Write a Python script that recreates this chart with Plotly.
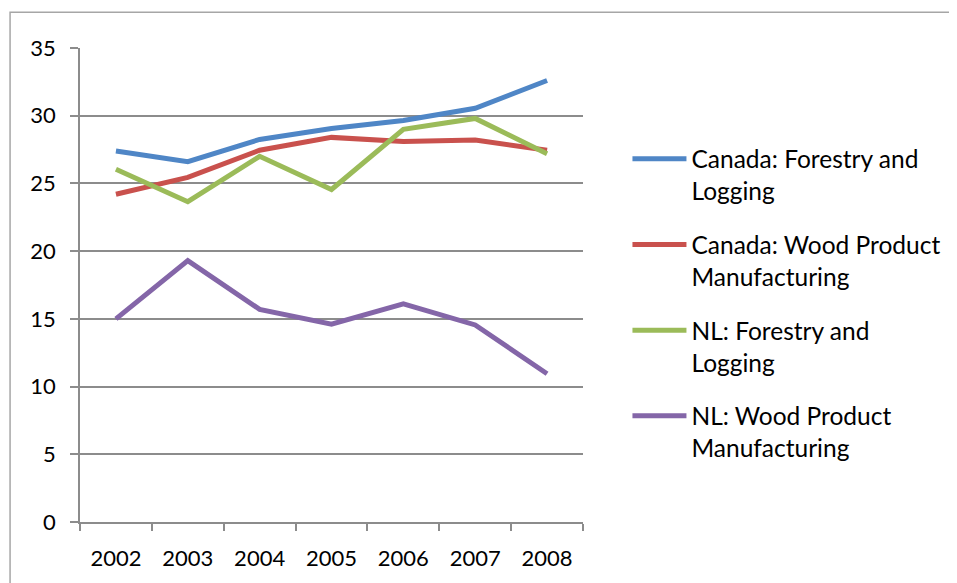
import plotly.graph_objects as go

years = ["2002", "2003", "2004", "2005", "2006", "2007", "2008"]
canada_forestry = [27.4, 26.6, 28.25, 29.05, 29.65, 30.55, 32.6]
canada_wood = [24.2, 25.45, 27.45, 28.4, 28.1, 28.2, 27.45]
nl_forestry = [26.05, 23.65, 27.0, 24.55, 29.0, 29.8, 27.2]
nl_wood = [15.0, 19.3, 15.7, 14.6, 16.1, 14.55, 10.95]

series_names = [
    "Canada: Forestry and<br>Logging",
    "Canada: Wood Product<br>Manufacturing",
    "NL: Forestry and<br>Logging",
    "NL: Wood Product<br>Manufacturing",
]
series_values = [canada_forestry, canada_wood, nl_forestry, nl_wood]
colors = ["#4F86C6", "#C9514D", "#9BBB59", "#8466A8"]

FONT = "Lato"
GRID = "#8c8c8c"

# page body has an 8px margin; compensate so the chart lands where the reference is
OFF = 8
W, H = 957 - OFF, 583 - OFF
px_left, px_right, px_top, px_bottom = 80 - OFF, 583.5 - OFF, 47.7 - OFF, 521.7 - OFF
pw, ph = px_right - px_left, px_bottom - px_top

fig = go.Figure()
for i, (name, vals, col) in enumerate(zip(series_names, series_values, colors)):
    fig.add_trace(go.Scatter(
        x=years, y=vals, name=name, mode="lines",
        line=dict(color=col, width=5),
        legendgroup=f"g{i}",
    ))

fig.update_layout(
    width=W, height=H,
    margin=dict(l=px_left, r=W - px_right, t=px_top, b=H - px_bottom, pad=0),
    paper_bgcolor="white", plot_bgcolor="white",
    font=dict(family=FONT, size=23, color="black"),
    showlegend=True,
    legend=dict(
        x=(628 - 80) / pw, xanchor="left",
        y=1 - (136 - 47.7) / ph, yanchor="top",
        traceorder="grouped", tracegroupgap=19,
        valign="top", itemwidth=54,
        font=dict(family=FONT, size=24.5, color="black"),
        bgcolor="rgba(0,0,0,0)",
    ),
    xaxis=dict(
        type="category", range=[-0.5, 6.5], showgrid=False,
        showline=True, linecolor=GRID, linewidth=1.5,
        ticks="outside", tickson="boundaries", ticklen=7, tickcolor=GRID, tickwidth=1.5,
        ticklabelstandoff=16,
        tickfont=dict(family=FONT, size=22, color="black"),
    ),
    yaxis=dict(
        range=[0, 35], dtick=5, tick0=0,
        showgrid=True, gridcolor=GRID, gridwidth=1.5,
        showline=True, linecolor=GRID, linewidth=1.5,
        ticks="outside", ticklen=8, tickcolor=GRID, tickwidth=1.5,
        ticklabelstandoff=10, zeroline=False,
        tickfont=dict(family=FONT, size=22, color="black"),
    ),
    shapes=[dict(
        type="rect", xref="paper", yref="paper",
        x0=(10 - 80) / pw, x1=2.0,
        y0=-0.5, y1=1 + (47.7 - 12) / ph,
        line=dict(color="#a6a6a6", width=1.5), layer="below",
    )],
)

fig.write_html("out.html")
